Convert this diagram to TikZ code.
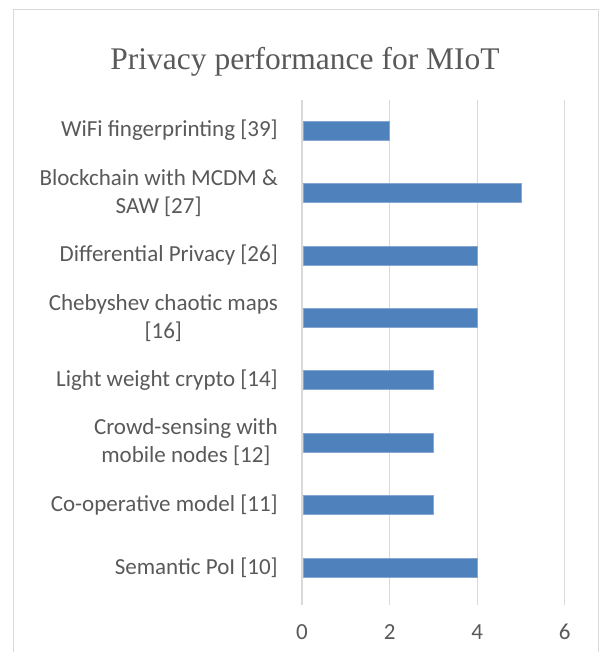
\documentclass[tikz,border=0pt]{standalone}
\usepackage{fontspec}
\setmainfont{Liberation Serif}
\setsansfont{Carlito}
\definecolor{barblue}{HTML}{4F81BD}
\definecolor{gridgray}{HTML}{D9D9D9}
\definecolor{txtgray}{HTML}{595959}
\tikzset{
  catlabel/.style={anchor=east, align=center, text=txtgray, font=\sffamily\fontsize{23}{28}\selectfont, inner sep=0pt},
  ticklabel/.style={text=txtgray, font=\sffamily\fontsize{23}{26}\selectfont, inner sep=0pt},
  gridline/.style={draw=gridgray, line width=1.2pt},
  bar/.style={fill=barblue, draw=barblue!70!white, line width=0.4pt}
}
\begin{document}
\begin{tikzpicture}[x=1pt, y=-1pt, line join=round]
	\useasboundingbox (0,0) rectangle (601,652);
	% cadre du graphique
	\draw[gridgray, line width=1pt] (13,680) -- (13,10) -- (598,10) -- (598,680);
	\node[text=txtgray, font=\rmfamily\fontsize{31.5}{36}\selectfont, inner sep=0pt] (title) at (305,62) {Privacy performance for MIoT};
	% grille verticale et graduations 0..6
	\foreach \v [count=\i] in {0,2,4,6} {
		\draw[gridline] (302+43.8*\v,100) -- (302+43.8*\v,605);
		\node[ticklabel] (tick\i) at (302+43.8*\v,632) {\v};
	}
	% barres : valeur / libelle
	\foreach \val/\lab [count=\i] in {
		2/{WiFi fingerprinting [39]},
		5/{Blockchain with MCDM \&\\SAW [27]},
		4/{Differential Privacy [26]},
		4/{Chebyshev chaotic maps\\{[16]}},
		3/{Light weight crypto [14]},
		3/{Crowd-sensing with\\mobile nodes [12]},
		3/{Co-operative model [11]},
		4/{Semantic PoI [10]}} {
		\pgfmathsetmacro{\yc}{130.5+62.4*(\i-1)}
		\fill[bar] (303,\yc-9.5) rectangle (302+43.8*\val,\yc+9.5);
		\node[catlabel] (cat\i) at (278,\yc) {\lab};
	}
\end{tikzpicture}
\end{document}
